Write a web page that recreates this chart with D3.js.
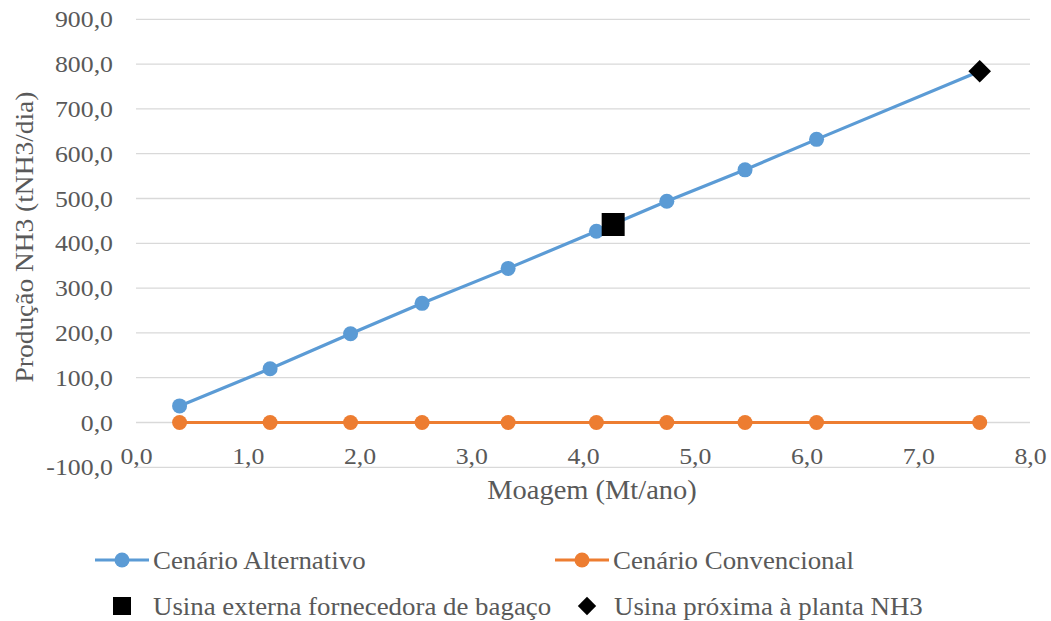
<!DOCTYPE html>
<html>
<head>
<meta charset="utf-8">
<script src="https://cdn.jsdelivr.net/npm/d3@7"></script>
<style>
  html, body { margin: 0; padding: 0; background: #fff; }
  svg, svg text { font-family: "Liberation Serif", "Times New Roman", serif; }
  svg { display: block; }
</style>
</head>
<body>
<svg id="chart" width="1051" height="621"></svg>
<script>
// Moagem (Mt/ano) for each mill
const moagem = [0.39, 1.20, 1.92, 2.56, 3.33, 4.12, 4.75, 5.45, 6.09, 7.55];
// Produção NH3 (tNH3/dia)
const alternativo = [37, 120, 198, 266, 344, 427, 494, 564, 632, 784];
const convencional = [0, 0, 0, 0, 0, 0, 0, 0, 0, 0];
// Highlighted mills
const usinaExterna = [{ x: 4.27, y: 442 }];
const usinaProxima = [{ x: 7.55, y: 784 }];

const yTicks = [-100, 0, 100, 200, 300, 400, 500, 600, 700, 800, 900];
const xTicks = [0, 1, 2, 3, 4, 5, 6, 7, 8];

const seriesNames = ["Cenário Alternativo", "Cenário Convencional"];
const markerNames = ["Usina externa fornecedora de bagaço", "Usina próxima à planta NH3"];

const BLUE = "#5B9BD5", ORANGE = "#ED7D31", GRID = "#D9D9D9", TEXT = "#595959";
const FONT = "'Liberation Serif', 'Times New Roman', serif";
const STRETCH = "scale(1.075,1)";

const svg = d3.select("#chart");
const fmt = v => v.toFixed(1).replace(".", ",");

const x = d3.scaleLinear().domain([0, 8]).range([136, 1030]);
const y = d3.scaleLinear().domain([-100, 900]).range([467.3, 19.3]);

// horizontal gridlines
svg.append("g")
  .selectAll("line")
  .data(yTicks)
  .join("line")
  .attr("x1", x(0)).attr("x2", x(8))
  .attr("y1", d => y(d)).attr("y2", d => y(d))
  .attr("stroke", GRID).attr("stroke-width", 1.3);

// y axis labels
const yAxis = d3.axisLeft(y).tickValues(yTicks).tickFormat(fmt).tickSize(0).tickPadding(0);
const gy = svg.append("g").attr("transform", `translate(${x(0) - 23},0)`).call(yAxis)
  .attr("font-family", FONT).attr("font-size", 24);
gy.select(".domain").remove();
gy.selectAll("text").attr("fill", TEXT).attr("x", 0).attr("transform", STRETCH);

// x axis labels, drawn just below the zero line
const xAxis = d3.axisBottom(x).tickValues(xTicks).tickFormat(fmt).tickSize(0).tickPadding(0);
const gx = svg.append("g").attr("transform", `translate(0,${y(0) + 24})`).call(xAxis)
  .attr("font-family", FONT).attr("font-size", 24);
gx.select(".domain").remove();
gx.selectAll("text").attr("fill", TEXT).attr("transform", STRETCH);

// axis titles
svg.append("g").attr("transform", "translate(592,499)")
  .append("text")
  .attr("transform", STRETCH)
  .attr("text-anchor", "middle")
  .attr("fill", TEXT).attr("font-size", 26.5)
  .text("Moagem (Mt/ano)");

svg.append("g").attr("transform", "translate(33,237) rotate(-90)")
  .append("text")
  .attr("transform", STRETCH)
  .attr("text-anchor", "middle")
  .attr("fill", TEXT).attr("font-size", 25.5)
  .text("Produção NH3 (tNH3/dia)");

// series
const line = d3.line().x(d => x(d[0])).y(d => y(d[1]));
const series = [
  { name: seriesNames[0], color: BLUE, values: alternativo },
  { name: seriesNames[1], color: ORANGE, values: convencional }
];

series.forEach(s => {
  const pts = moagem.map((m, i) => [m, s.values[i]]);
  svg.append("path")
    .datum(pts)
    .attr("d", line)
    .attr("fill", "none")
    .attr("stroke", s.color)
    .attr("stroke-width", 3.2);
  svg.append("g")
    .selectAll("circle")
    .data(pts)
    .join("circle")
    .attr("cx", d => x(d[0])).attr("cy", d => y(d[1]))
    .attr("r", 7.5)
    .attr("fill", s.color);
});

// highlighted mills
const squareSym = d3.symbol().type(d3.symbolSquare).size(23 * 23);
const diamondSym = d3.symbol().type(d3.symbolSquare).size(16 * 16);

svg.append("g")
  .selectAll("path")
  .data(usinaExterna)
  .join("path")
  .attr("d", squareSym)
  .attr("transform", d => `translate(${x(d.x)},${y(d.y)})`)
  .attr("fill", "#000");

svg.append("g")
  .selectAll("path")
  .data(usinaProxima)
  .join("path")
  .attr("d", diamondSym)
  .attr("transform", d => `translate(${x(d.x)},${y(d.y)}) rotate(45)`)
  .attr("fill", "#000");

// legend
const leg = svg.append("g").attr("font-size", 25).attr("fill", TEXT);
const legLines = [
  { x0: 95, color: BLUE, label: seriesNames[0] },
  { x0: 555, color: ORANGE, label: seriesNames[1] }
];
const legText = (tx, ty, label) =>
  leg.append("g").attr("transform", `translate(${tx},${ty})`)
    .append("text").attr("transform", STRETCH).attr("dy", "0.35em").text(label);

legLines.forEach(l => {
  leg.append("line")
    .attr("x1", l.x0).attr("x2", l.x0 + 54)
    .attr("y1", 560).attr("y2", 560)
    .attr("stroke", l.color).attr("stroke-width", 3.2);
  leg.append("circle")
    .attr("cx", l.x0 + 27).attr("cy", 560).attr("r", 7.5)
    .attr("fill", l.color);
  legText(l.x0 + 58, 560, l.label);
});

leg.append("path")
  .attr("d", d3.symbol().type(d3.symbolSquare).size(18 * 18))
  .attr("transform", "translate(122,606)")
  .attr("fill", "#000");
legText(153, 606, markerNames[0]);

leg.append("path")
  .attr("d", d3.symbol().type(d3.symbolSquare).size(13 * 13))
  .attr("transform", "translate(587,606) rotate(45)")
  .attr("fill", "#000");
legText(614, 606, markerNames[1]);
</script>
</body>
</html>
